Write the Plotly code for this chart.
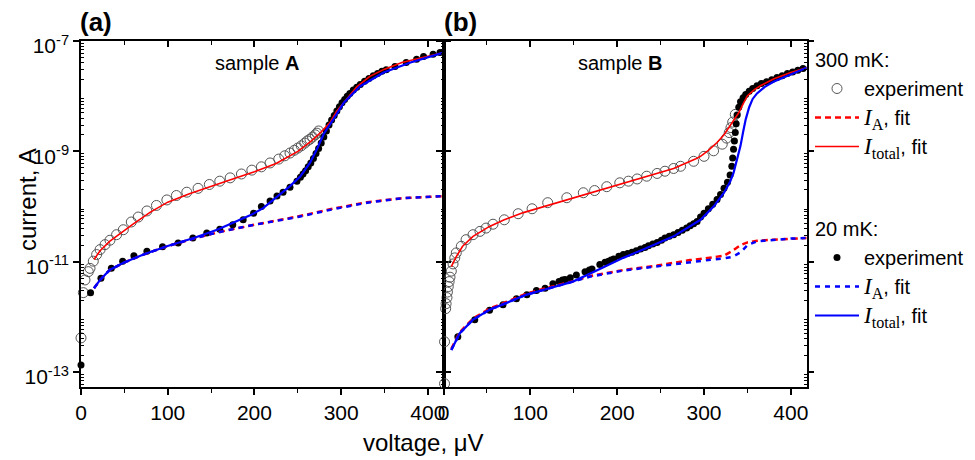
import plotly.graph_objects as go

# ---------------- data (voltage in microvolts, log10 of current in A) ----------------
# Panel (a): sample A
a300_exp_V = [0, 2.7, 4.6, 8.4, 10.4, 14.2, 18, 22, 27.7, 33.4, 41, 48.8, 58, 66, 76, 87, 99, 110, 122, 135,
              148, 160, 172, 185, 197, 208, 218, 228, 235, 241, 246, 250, 254, 258, 261, 264, 267, 270, 272, 274]
a300_exp_logI = [-12.38, -11.56, -11.33, -11.18, -11.12, -10.99, -10.87, -10.78, -10.69, -10.61, -10.51, -10.42,
                 -10.28, -10.19, -10.08, -9.98, -9.88, -9.80, -9.74, -9.67, -9.60, -9.54, -9.48, -9.41, -9.34,
                 -9.28, -9.21, -9.14, -9.08, -9.03, -8.98, -8.94, -8.90, -8.85, -8.81, -8.78, -8.74, -8.70,
                 -8.67, -8.63]

a20_exp_V = [0, 11, 23, 35, 48, 61, 76, 94, 112, 129, 145, 160, 175, 187, 199, 208, 218, 226, 233, 241, 249,
             253, 256, 259, 262, 265, 268, 271, 274, 277, 280, 283, 286, 289, 292, 295, 298, 301, 304, 307,
             310, 314, 318, 322, 327, 332, 337, 342, 347, 352, 362, 375, 387, 395, 406, 414]
a20_exp_logI = [-12.87, -11.56, -11.30, -11.12, -10.99, -10.89, -10.81, -10.73, -10.66, -10.57, -10.48, -10.41,
                -10.33, -10.24, -10.12, -10.00, -9.90, -9.81, -9.74, -9.65, -9.54, -9.47, -9.41, -9.35, -9.28,
                -9.21, -9.13, -9.04, -8.95, -8.85, -8.74, -8.63, -8.52, -8.43, -8.35, -8.27, -8.19, -8.12,
                -8.06, -8.00, -7.95, -7.89, -7.84, -7.79, -7.73, -7.68, -7.63, -7.59, -7.55, -7.52, -7.46,
                -7.39, -7.33, -7.28, -7.24, -7.21]

a300_total_V = [15, 22, 33, 48, 60, 80, 100, 125, 150, 175, 200, 225, 250, 265, 275, 287, 295, 303, 318, 333,
                350, 370, 390, 418]
a300_total_logI = [-10.96, -10.80, -10.63, -10.45, -10.32, -10.10, -9.92, -9.77, -9.63, -9.50, -9.37, -9.22,
                   -9.00, -8.82, -8.68, -8.48, -8.27, -8.11, -7.83, -7.64, -7.51, -7.39, -7.31, -7.21]

a20_total_V = [15, 22, 33, 49, 72, 99, 130, 157, 176, 195, 210, 222, 241, 253, 264, 272, 280, 291, 303, 322,
               349, 380, 418]
a20_total_logI = [-11.48, -11.33, -11.15, -11.02, -10.87, -10.72, -10.57, -10.42, -10.29, -10.16, -10.03,
                  -9.88, -9.63, -9.45, -9.21, -8.96, -8.68, -8.42, -8.12, -7.82, -7.57, -7.39, -7.21]

a_IA_V = [15, 22, 33, 49, 72, 99, 130, 160, 200, 250, 290, 330, 370, 418]
a300_IA_logI = [-11.48, -11.33, -11.15, -11.02, -10.87, -10.72, -10.58, -10.46, -10.33, -10.18, -10.04,
                -9.92, -9.85, -9.81]
a20_IA_logI = [-11.48, -11.33, -11.15, -11.02, -10.87, -10.72, -10.58, -10.46, -10.33, -10.19, -10.05,
               -9.93, -9.85, -9.81]

# Panel (b): sample B
b300_exp_V = [1.2, 1.2, 2.5, 3, 4, 4.5, 5.5, 6.5, 7.5, 9, 11, 13, 14.7, 20.5, 26, 34, 42, 49, 57, 70, 86, 102,
              120, 142, 161, 174, 188, 203, 213, 223, 234, 246, 255, 265, 273, 288, 300, 311, 321, 326, 329,
              331, 333, 336]
b300_exp_logI = [-13.21, -12.45, -11.85, -11.76, -11.65, -11.55, -11.45, -11.36, -11.28, -11.17, -11.04,
                 -10.93, -10.84, -10.72, -10.60, -10.51, -10.45, -10.39, -10.32, -10.24, -10.13, -10.04, -9.93,
                 -9.84, -9.75, -9.71, -9.64, -9.57, -9.54, -9.50, -9.45, -9.40, -9.36, -9.31, -9.27, -9.18,
                 -9.09, -8.99, -8.87, -8.76, -8.66, -8.57, -8.47, -8.33]

b20_exp_V = [16.5, 36, 53, 68.5, 84, 96, 107, 117, 126, 133, 137, 140, 146, 153, 163, 168, 171, 180, 186, 190,
             193, 196, 202, 207, 212, 217, 222, 227, 232, 236, 241, 246, 251, 255, 260, 265, 270, 275, 280,
             284, 288, 292, 296, 300, 305, 310, 315, 319, 323, 327, 330, 332, 333, 334, 335, 336, 337, 338,
             340, 342, 345, 348, 352, 356, 361, 366, 372, 378, 384, 390, 396, 402, 408, 414, 419]
b20_exp_logI = [-12.36, -12.05, -11.88, -11.78, -11.67, -11.60, -11.52, -11.48, -11.40, -11.36, -11.33,
                -11.32, -11.29, -11.24, -11.18, -11.15, -11.13, -11.05, -11.01, -10.99, -10.97, -10.95,
                -10.90, -10.87, -10.85, -10.83, -10.80, -10.77, -10.74, -10.71, -10.68, -10.65, -10.61,
                -10.57, -10.54, -10.51, -10.47, -10.43, -10.39, -10.35, -10.31, -10.27, -10.19, -10.12,
                -10.04, -9.96, -9.87, -9.78, -9.67, -9.56, -9.43, -9.27, -9.12, -8.96, -8.81, -8.66, -8.50,
                -8.34, -8.20, -8.10, -8.03, -7.97, -7.91, -7.86, -7.81, -7.77, -7.74, -7.70, -7.66, -7.63,
                -7.59, -7.56, -7.53, -7.50, -7.48]

b300_total_V = [9, 15, 22, 34, 53, 70, 92, 120, 149, 178, 207, 236, 265, 290, 296, 305, 315, 323, 330, 335,
                340, 345, 350, 358, 365, 380, 400, 419]
b300_total_logI = [-11.09, -10.90, -10.72, -10.54, -10.36, -10.24, -10.11, -9.98, -9.85, -9.71, -9.58, -9.44,
                   -9.31, -9.14, -9.09, -8.98, -8.84, -8.70, -8.54, -8.42, -8.30, -8.14, -7.99, -7.88, -7.81,
                   -7.69, -7.57, -7.48]

b20_total_V = [9, 18.5, 34, 53, 72, 95, 122, 149, 180, 207, 234, 265, 296, 311, 323, 330, 334, 338, 342, 345,
               348, 352, 356, 361, 370, 380, 400, 419]
b20_total_logI = [-12.60, -12.30, -12.05, -11.87, -11.75, -11.60, -11.48, -11.36, -11.13, -10.93, -10.75,
                  -10.54, -10.24, -10.00, -9.75, -9.55, -9.39, -9.15, -8.90, -8.65, -8.42, -8.20, -8.05,
                  -7.95, -7.83, -7.74, -7.60, -7.48]

b_IA_V = [9, 18.5, 34, 53, 72, 95, 122, 150, 169, 207, 246, 284, 310, 323, 333, 342, 350, 361, 380, 400, 419]
b300_IA_logI = [-12.58, -12.28, -12.03, -11.85, -11.73, -11.58, -11.46, -11.35, -11.26, -11.15, -11.07,
                -10.97, -10.92, -10.89, -10.80, -10.70, -10.65, -10.62, -10.60, -10.58, -10.57]
b20_IA_logI = [-12.60, -12.30, -12.05, -11.87, -11.75, -11.60, -11.48, -11.36, -11.27, -11.16, -11.08,
               -11.00, -10.96, -10.94, -10.91, -10.83, -10.70, -10.63, -10.60, -10.58, -10.57]

# axis tick values
y_tick_exponents = [-13, -11, -9, -7]
x_tick_values = [0, 100, 200, 300, 400]

# ---------------- figure ----------------
W, H = 975, 460
FONT = "Liberation Sans"
RED, BLUE = "#ff0000", "#0000ff"


def amps(logs):
    return [10.0 ** v for v in logs]


IA_LABEL = "<span style='font-family:Liberation Serif;font-size:23px'><i>I</i><sub>A</sub></span>, fit"
ITOT_LABEL = "<span style='font-family:Liberation Serif;font-size:23px'><i>I</i><sub>total</sub></span>, fit"

fig = go.Figure()


def add_panel(ax, yx, e300V, e300, e20V, e20, iaV, ia300, ia20, t300V, t300, t20V, t20, show):
    fig.add_trace(go.Scatter(x=e300V, y=amps(e300), mode="markers", xaxis=ax, yaxis=yx,
                             marker=dict(symbol="circle-open", size=10, color="#555555", line=dict(width=1)),
                             name="experiment", legendgroup="300", showlegend=show, cliponaxis=False,
                             legendgrouptitle=dict(text="300 mK:")))
    fig.add_trace(go.Scatter(x=e20V, y=amps(e20), mode="markers", xaxis=ax, yaxis=yx,
                             marker=dict(symbol="circle", size=7, color="black"),
                             name="experiment", legendgroup="20", showlegend=show, cliponaxis=False,
                             legendgrouptitle=dict(text="20 mK:")))
    fig.add_trace(go.Scatter(x=iaV, y=amps(ia300), mode="lines", xaxis=ax, yaxis=yx,
                             line=dict(color=RED, width=2.5, dash="6px,4px"),
                             name=IA_LABEL, legendgroup="300", showlegend=show))
    fig.add_trace(go.Scatter(x=iaV, y=amps(ia20), mode="lines", xaxis=ax, yaxis=yx,
                             line=dict(color=BLUE, width=2.5, dash="5px,5px"),
                             name=IA_LABEL, legendgroup="20", showlegend=show))
    fig.add_trace(go.Scatter(x=t300V, y=amps(t300), mode="lines", xaxis=ax, yaxis=yx,
                             line=dict(color=RED, width=1.6),
                             name=ITOT_LABEL, legendgroup="300", showlegend=show))
    fig.add_trace(go.Scatter(x=t20V, y=amps(t20), mode="lines", xaxis=ax, yaxis=yx,
                             line=dict(color=BLUE, width=2.2),
                             name=ITOT_LABEL, legendgroup="20", showlegend=show))


add_panel("x", "y", a300_exp_V, a300_exp_logI, a20_exp_V, a20_exp_logI, a_IA_V, a300_IA_logI, a20_IA_logI,
          a300_total_V, a300_total_logI, a20_total_V, a20_total_logI, True)
add_panel("x2", "y2", b300_exp_V, b300_exp_logI, b20_exp_V, b20_exp_logI, b_IA_V, b300_IA_logI, b20_IA_logI,
          b300_total_V, b300_total_logI, b20_total_V, b20_total_logI, False)

# legend ordering: 300 mK group first
for i, tr in enumerate(fig.data):
    tr.legendrank = (1 if tr.legendgroup == "300" else 2) * 100 + i

# empty traces that only attach the top tick axes to their panels
for top_ax, y_ax in (("x3", "y"), ("x4", "y2")):
    fig.add_trace(go.Scatter(x=[], y=[], xaxis=top_ax, yaxis=y_ax, showlegend=False, hoverinfo="skip"))

y_top_px, y_bot_px = 41, 387
xa_dom = [81 / W, 443.5 / W]
xb_dom = [443.5 / W, 806.5 / W]
y_dom = [1 - y_bot_px / H, 1 - y_top_px / H]

minor_y = [k * 10.0 ** e for e in range(-14, -6) for k in range(2, 10)]
X_RANGE = [0, 418]

x_common = dict(range=X_RANGE, tickvals=x_tick_values, ticks="outside", ticklen=6, tickwidth=1.5,
                showline=True, linecolor="black", linewidth=1.5, mirror=True, showgrid=False,
                zeroline=False, tickfont=dict(family=FONT, size=21, color="black"),
                minor=dict(dtick=50, ticks="outside", ticklen=4, tickwidth=1.2, tickcolor="black"),
                ticklabelstandoff=0, automargin=False, tickcolor="black")
# top-side tick axes (ticks pointing inward, as in the original)
x_top = dict(range=X_RANGE, tickvals=x_tick_values, ticks="inside", ticklen=6, tickwidth=1.5,
             tickcolor="black", side="top", showticklabels=False, showline=False, showgrid=False,
             zeroline=False, minor=dict(dtick=50, ticks="inside", ticklen=4, tickwidth=1.2, tickcolor="black"),
             automargin=False)
y_common = dict(type="log", range=[-13.27, -7.0], tickvals=[10.0 ** e for e in y_tick_exponents],
                ticktext=["10<sup>%d</sup>" % e for e in y_tick_exponents],
                ticks="outside", ticklen=6, tickwidth=1.5, tickcolor="black",
                showline=True, linecolor="black", linewidth=1.5, mirror="ticks", showgrid=False,
                zeroline=False, tickfont=dict(family=FONT, size=21, color="black"),
                minor=dict(tickmode="array", tickvals=minor_y, ticks="inside", ticklen=3, tickwidth=1,
                           tickcolor="black"),
                ticklabelshift=5, automargin=False)

fig.update_layout(
    width=W, height=H,
    margin=dict(l=0, r=0, t=0, b=0),
    paper_bgcolor="white", plot_bgcolor="white",
    font=dict(family=FONT, size=20, color="black"),
    xaxis=dict(domain=xa_dom, anchor="y", **x_common),
    yaxis=dict(domain=y_dom, anchor="x", **y_common),
    xaxis2=dict(domain=xb_dom, anchor="y2", **x_common),
    yaxis2=dict(domain=y_dom, anchor="x2", showticklabels=False, **y_common),
    xaxis3=dict(overlaying="x", anchor="y", **x_top),
    xaxis4=dict(overlaying="x2", anchor="y2", **x_top),
    legend=dict(x=810 / W, y=1 - 40 / H, xanchor="left", yanchor="top", traceorder="grouped",
                tracegroupgap=53, bgcolor="rgba(0,0,0,0)", itemwidth=44,
                font=dict(family=FONT, size=20, color="black"),
                grouptitlefont=dict(family=FONT, size=20, color="black")),
    showlegend=True,
)

fig.add_annotation(text="<b>(a)</b>", x=78 / W, y=1 - 22 / H, xref="paper", yref="paper",
                   xanchor="left", yanchor="middle", showarrow=False, font=dict(family=FONT, size=26))
fig.add_annotation(text="<b>(b)</b>", x=442 / W, y=1 - 22 / H, xref="paper", yref="paper",
                   xanchor="left", yanchor="middle", showarrow=False, font=dict(family=FONT, size=26))
fig.add_annotation(text="sample <b>A</b>", x=257 / W, y=1 - 63 / H, xref="paper", yref="paper",
                   xanchor="center", yanchor="middle", showarrow=False, font=dict(family=FONT, size=20))
fig.add_annotation(text="sample <b>B</b>", x=620 / W, y=1 - 63 / H, xref="paper", yref="paper",
                   xanchor="center", yanchor="middle", showarrow=False, font=dict(family=FONT, size=20))
fig.add_annotation(text="current, A", x=28 / W, y=1 - 200 / H, xref="paper", yref="paper", textangle=-90,
                   xanchor="center", yanchor="middle", showarrow=False, font=dict(family=FONT, size=24))
fig.add_annotation(text="voltage, μV", x=423 / W, y=1 - 442 / H, xref="paper", yref="paper",
                   xanchor="center", yanchor="middle", showarrow=False, font=dict(family=FONT, size=24))

# remove the browser's default page margin so the figure sits at the window's top-left corner
fig.write_html("out.html", config={"displayModeBar": False},
               post_script="document.body.style.margin='0';")
